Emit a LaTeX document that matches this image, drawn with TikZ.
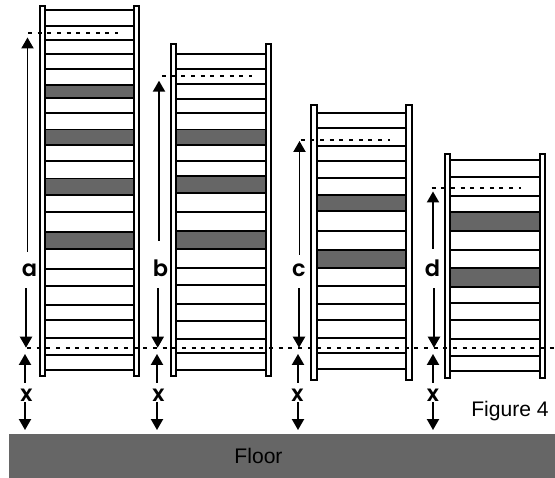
\documentclass[tikz,border=0pt]{standalone}
\usepackage{fontspec}
\setmainfont{Liberation Sans}
\newfontfamily\dimfont{Poppins SemiBold}
\usetikzlibrary{arrows.meta}
\definecolor{slategrey}{HTML}{666666}
\tikzset{
  rail/.style={line width=0.048cm,fill=white},
  rung/.style={line width=0.048cm},
  darkrung/.style={line width=0.048cm,fill=slategrey},
  levelline/.style={line width=0.044cm,dash pattern=on 0.1cm off 0.142cm},
  dimarrow/.style={line width=0.044cm,-{Triangle[width=8.6pt,length=7.8pt]}},
  dimlabel/.style={inner sep=0pt,anchor=base,font=\dimfont\fontsize{16}{16}\selectfont},
  plaintext/.style={inner sep=0pt,font=\fontsize{15}{15}\selectfont}
}
\begin{document}
\begin{tikzpicture}[x=0.025cm,y=-0.025cm]
                    \useasboundingbox (0,0) rectangle (555,478);

                    % Drawing the floor
                    \fill [slategrey] (9,434) rectangle (555,478);
                    \node [plaintext,anchor=base] (floorname) at (258.5,463.5) {Floor};
                    \node [plaintext,anchor=base west] (figname) at (471,416.5) {Figure 4};

                    % Drawing ladder a
                    \draw [rung] (42,10) -- (137,10);
                    \draw [rung] (42,26) -- (137,26);
                    \draw [rung] (42,40) -- (137,40);
                    \draw [rung] (42,54) -- (137,54);
                    \draw [rung] (42,69) -- (137,69);
                    \draw [darkrung] (42,85) rectangle (137,98);
                    \draw [rung] (42,113) -- (137,113);
                    \draw [darkrung] (42,129.5) rectangle (137,145);
                    \draw [rung] (42,161) -- (137,161);
                    \draw [darkrung] (42,178.5) rectangle (137,195);
                    \draw [rung] (42,212) -- (137,212);
                    \draw [darkrung] (42,232) rectangle (137,249);
                    \draw [rung] (42,269) -- (137,269);
                    \draw [rung] (42,286) -- (137,286);
                    \draw [rung] (42,305) -- (137,305);
                    \draw [rung] (42,320) -- (137,320);
                    \draw [rung] (42,338) -- (137,338);
                    \draw [rung] (42,355) -- (137,355);
                    \draw [rung] (42,370) -- (137,370);
                    \draw [rail] (39.7,6.3) rectangle (44.7,376);
                    \draw [rail] (134.2,6.3) rectangle (139.2,376);

                    % Drawing ladder b
                    \draw [rung] (174,54) -- (268,54);
                    \draw [rung] (174,69) -- (268,69);
                    \draw [rung] (174,84) -- (268,84);
                    \draw [rung] (174,99) -- (268,99);
                    \draw [rung] (174,113) -- (268,113);
                    \draw [darkrung] (174,129.5) rectangle (268,145);
                    \draw [rung] (174,161) -- (268,161);
                    \draw [darkrung] (174,176) rectangle (268,193);
                    \draw [rung] (174,212) -- (268,212);
                    \draw [darkrung] (174,231) rectangle (268,249);
                    \draw [rung] (174,268) -- (268,268);
                    \draw [rung] (174,285) -- (268,285);
                    \draw [rung] (174,304) -- (268,304);
                    \draw [rung] (174,321) -- (268,321);
                    \draw [rung] (174,339) -- (268,339);
                    \draw [rung] (174,353) -- (268,353);
                    \draw [rung] (174,370) -- (268,370);
                    \draw [rail] (170.7,44.3) rectangle (175.9,376.3);
                    \draw [rail] (265.6,44.3) rectangle (270.9,376.3);

                    % Drawing ladder c
                    \draw [rung] (314,113) -- (409,113);
                    \draw [rung] (314,128) -- (409,128);
                    \draw [rung] (314,146) -- (409,146);
                    \draw [rung] (314,161) -- (409,161);
                    \draw [rung] (314,178) -- (409,178);
                    \draw [darkrung] (314,195) rectangle (409,211);
                    \draw [rung] (314,231) -- (409,231);
                    \draw [darkrung] (314,250) rectangle (409,268);
                    \draw [rung] (314,286) -- (409,286);
                    \draw [rung] (314,304) -- (409,304);
                    \draw [rung] (314,320) -- (409,320);
                    \draw [rung] (314,338) -- (409,338);
                    \draw [rung] (314,353) -- (409,353);
                    \draw [rung] (314,369) -- (409,369);
                    \draw [rail] (311.4,105.3) rectangle (316.6,380);
                    \draw [rail] (406.4,105.3) rectangle (411.6,380);

                    % Drawing ladder d
                    \draw [rung] (448,160) -- (542,160);
                    \draw [rung] (448,177) -- (542,177);
                    \draw [rung] (448,196) -- (542,196);
                    \draw [darkrung] (448,212) rectangle (542,231);
                    \draw [rung] (448,250) -- (542,250);
                    \draw [darkrung] (448,268) rectangle (542,287);
                    \draw [rung] (448,303) -- (542,303);
                    \draw [rung] (448,320) -- (542,320);
                    \draw [rung] (448,339) -- (542,339);
                    \draw [rung] (448,356) -- (542,356);
                    \draw [rung] (448,371) -- (542,371);
                    \draw [rail] (444.7,153.7) rectangle (450,377.7);
                    \draw [rail] (539.7,153.7) rectangle (545,377.7);

                    % Drawing the levels
                    \draw [levelline] (28,33) -- (118,33);
                    \draw [levelline] (162,76.3) -- (252,76.3);
                    \draw [levelline] (300.7,140) -- (390,140);
                    \draw [levelline] (431.7,188) -- (521,188);
                    \draw [levelline] (27,347.7) -- (555,347.7);

                    % Marking the ends of the arrows
                    \coordinate (atop) at (27.5,37.5);
                    \coordinate (alow) at (26,347.7);
                    \coordinate (btop) at (159,80.7);
                    \coordinate (blow) at (157.7,347.7);
                    \coordinate (ctop) at (299.5,141);
                    \coordinate (clow) at (299,347.7);
                    \coordinate (dtop) at (433,191.5);
                    \coordinate (dlow) at (434,347.7);
                    \coordinate (axup) at (25,354);
                    \coordinate (axdown) at (25,430);
                    \coordinate (bxup) at (157,354);
                    \coordinate (bxdown) at (157,430);
                    \coordinate (cxup) at (298,354);
                    \coordinate (cxdown) at (298,430);
                    \coordinate (dxup) at (433,354);
                    \coordinate (dxdown) at (433,430);

                    % Labelling the heights
                    \node [dimlabel,text height=17.8pt,text depth=7.8pt] (labela) at (29.5,277) {a};
                    \node [dimlabel,text height=25.6pt,text depth=7.8pt] (labelb) at (160.5,277) {b};
                    \node [dimlabel,text height=15.6pt,text depth=7.8pt] (labelc) at (299,277) {c};
                    \node [dimlabel,text height=19.9pt,text depth=7.8pt] (labeld) at (432.5,277) {d};
                    \node [dimlabel,text height=13.5pt,text depth=0pt] (labelxa) at (26.5,402) {x};
                    \node [dimlabel,text height=13.5pt,text depth=0pt] (labelxb) at (158.5,402) {x};
                    \node [dimlabel,text height=13.5pt,text depth=0pt] (labelxc) at (297.5,402) {x};
                    \node [dimlabel,text height=13.5pt,text depth=0pt] (labelxd) at (433,402) {x};

                    % Drawing arrows a to d
                    \draw [dimarrow] (atop |- labela.north) -- (atop);
                    \draw [dimarrow] (alow |- labela.south) -- (alow);
                    \draw [dimarrow] (btop |- labelb.north) -- (btop);
                    \draw [dimarrow] (blow |- labelb.south) -- (blow);
                    \draw [dimarrow] (ctop |- labelc.north) -- (ctop);
                    \draw [dimarrow] (clow |- labelc.south) -- (clow);
                    \draw [dimarrow] (dtop |- labeld.north) -- (dtop);
                    \draw [dimarrow] (dlow |- labeld.south) -- (dlow);

                    % Drawing arrows x
                    \draw [dimarrow] (axup |- labelxa.north) -- (axup);
                    \draw [dimarrow] (axdown |- labelxa.south) -- (axdown);
                    \draw [dimarrow] (bxup |- labelxb.north) -- (bxup);
                    \draw [dimarrow] (bxdown |- labelxb.south) -- (bxdown);
                    \draw [dimarrow] (cxup |- labelxc.north) -- (cxup);
                    \draw [dimarrow] (cxdown |- labelxc.south) -- (cxdown);
                    \draw [dimarrow] (dxup |- labelxd.north) -- (dxup);
                    \draw [dimarrow] (dxdown |- labelxd.south) -- (dxdown);
                \end{tikzpicture}
\end{document}
